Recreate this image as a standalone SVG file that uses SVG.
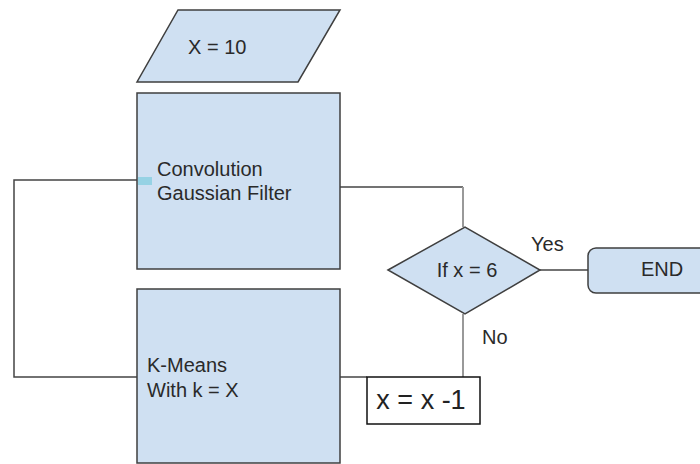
<svg xmlns="http://www.w3.org/2000/svg" width="700" height="464" viewBox="0 0 700 464">
<style>
.shape{fill:#cfe0f2;stroke:#3f3f3f;stroke-width:1.5}
.t{font-family:"Liberation Sans",Arial,sans-serif;font-size:20px;fill:#2a2a2a}
.big{font-size:27px;fill:#222}
.c{fill:none;stroke:#444;stroke-width:1.5}
.cg{fill:none;stroke:#999;stroke-width:2}
</style>
<rect width="700" height="464" fill="#fff"/>
<g id="connectors">
<polyline class="c" points="137,180 14,180 14,377 137,377"/>
<line class="c" x1="340" y1="377" x2="367" y2="377"/>
<line class="c" x1="340" y1="187" x2="463" y2="187"/>
<line class="cg" x1="463" y1="187" x2="463" y2="227"/>
<line class="cg" x1="463" y1="314" x2="463" y2="377"/>
<line class="c" x1="540" y1="270" x2="588" y2="270"/>
<text class="t" x="531" y="251">Yes</text>
<text class="t" x="482" y="344">No</text>
</g>
<g id="input">
<polygon class="shape" points="178,10 340,10 298,82 137,82"/>
<text class="t" x="188" y="54">X = 10</text>
</g>
<g id="convolution">
<rect class="shape" x="137" y="93" width="203" height="176"/>
<rect x="138" y="177" width="14" height="8" fill="#96d2e4"/>
<text class="t" x="157" y="176">Convolution</text>
<text class="t" x="157" y="200">Gaussian Filter</text>
</g>
<g id="kmeans">
<rect class="shape" x="137" y="289" width="203" height="174"/>
<text class="t" x="147" y="372">K-Means</text>
<text class="t" x="147" y="397">With k = X</text>
</g>
<g id="decision">
<polygon class="shape" points="388,270 465,227 540,270 465,314"/>
<text class="t" x="467" y="277" text-anchor="middle">If x = 6</text>
</g>
<g id="end">
<rect class="shape" x="588" y="248" width="130" height="45" rx="8"/>
<text class="t" x="662" y="276" text-anchor="middle">END</text>
</g>
<g id="decrement">
<rect x="367" y="377" width="113" height="47" fill="#fff" stroke="#111" stroke-width="1.5"/>
<text class="t big" x="421" y="409" text-anchor="middle">x = x -1</text>
</g>
</svg>
